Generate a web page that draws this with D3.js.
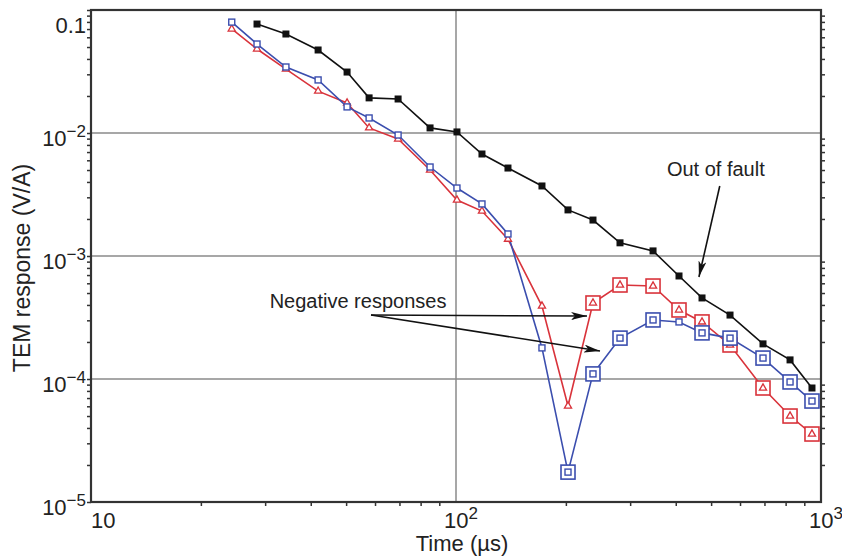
<!DOCTYPE html>
<html>
<head>
<meta charset="utf-8">
<script src="https://cdn.jsdelivr.net/npm/d3@7"></script>
<style>
  body { margin: 0; background: #fff; }
  svg text { font-family: "Liberation Sans", Arial, Helvetica, sans-serif; fill: #222; }
</style>
</head>
<body>
<div id="chart"></div>
<script>
// sample times (µs); the out-of-fault curve starts at the second one
const times = [24.3, 28.5, 34.2, 41.9, 50.3, 57.8, 69.4, 84.9, 100.6, 117.8, 138.8,
  172, 202.7, 237.3, 281.4, 346.6, 408.3, 472.1, 563.3, 693.6, 822.6, 944.7];

const outOfFault = [0.0769, 0.0638, 0.0473, 0.0313, 0.0193, 0.0189, 0.0110, 0.0102, 0.00675,
  0.00519, 0.00371, 0.00237, 0.00196, 0.00128, 0.00110, 0.000688, 0.000456, 0.000331,
  0.000193, 0.000143, 0.0000845];

const blueValues = [0.0797, 0.0529, 0.0344, 0.0270, 0.0163, 0.01325, 0.00963, 0.00529, 0.00357,
  0.00265, 0.00151, 0.000179, 0.0000175, 0.000110, 0.000215, 0.000302, 0.000291, 0.000237,
  0.000215, 0.000148, 0.0000946, 0.0000662];
const blueNegative = [0, 0, 0, 0, 0, 0, 0, 0, 0, 0, 0, 0, 1, 1, 1, 1, 0, 1, 1, 1, 1, 1];

const redValues = [0.0701, 0.0482, 0.0331, 0.0219, 0.01754, 0.0110, 0.00894, 0.00500, 0.00285,
  0.00232, 0.00137, 0.000392, 0.0000603, 0.000415, 0.000581, 0.000570, 0.000364, 0.000291,
  0.000189, 0.0000845, 0.0000500, 0.0000357];
const redNegative = [0, 0, 0, 0, 0, 0, 0, 0, 0, 0, 0, 0, 0, 1, 1, 1, 1, 1, 1, 1, 1, 1];

const yTickValues = [0.1, 1e-2, 1e-3, 1e-4, 1e-5];
const yTickBase = ["0.1", "10", "10", "10", "10"];
const yTickExp = ["", "−2", "−3", "−4", "−5"];
const xTickValues = [10, 100, 1000];
const xTickBase = ["10", "10", "10"];
const xTickExp = ["", "2", "3"];

const width = 842, height = 558;
const m = { left: 91, right: 821, top: 10, bottom: 502 };

const svg = d3.select("#chart").append("svg")
  .attr("width", width).attr("height", height);

const x = d3.scaleLog().domain([10, 1000]).range([m.left, m.right]);
const y = d3.scaleLog().domain([1e-5, 0.1]).range([m.bottom, m.top]);

// minor ticks
const minorX = [], minorY = [];
[10, 100].forEach(d => { for (let k = 2; k <= 9; k++) minorX.push(d * k); });
[1e-5, 1e-4, 1e-3, 1e-2].forEach(d => { for (let k = 2; k <= 9; k++) minorY.push(d * k); });

// grid
const grid = svg.append("g").attr("stroke", "#8a8a8a").attr("stroke-width", 1.5);
grid.append("line").attr("x1", x(100)).attr("x2", x(100)).attr("y1", m.top).attr("y2", m.bottom);
[1e-2, 1e-3, 1e-4].forEach(v => {
  grid.append("line").attr("x1", m.left).attr("x2", m.right).attr("y1", y(v)).attr("y2", y(v));
});

// axes (ticks only, labels drawn separately)
function tickAxis(axis, tr) {
  const g = svg.append("g").attr("transform", tr).call(axis);
  g.select(".domain").remove();
  g.selectAll("line").attr("stroke", "#333").attr("stroke-width", 1.5);
  g.selectAll("text").remove();
}
tickAxis(d3.axisLeft(y).tickValues(minorY.concat(yTickValues)).tickSize(4), `translate(${m.left},0)`);
tickAxis(d3.axisRight(y).tickValues(minorY).tickSize(4), `translate(${m.right},0)`);
tickAxis(d3.axisBottom(x).tickValues(minorX).tickSize(4), `translate(0,${m.bottom})`);

svg.append("rect")
  .attr("x", m.left).attr("y", m.top)
  .attr("width", m.right - m.left).attr("height", m.bottom - m.top)
  .attr("fill", "none").attr("stroke", "#333").attr("stroke-width", 2.2);

// tick labels
yTickValues.forEach((v, i) => {
  const t = svg.append("text")
    .attr("x", m.left - 5)
    .attr("y", i === 0 ? y(v) + 23 : y(v) + 13)
    .attr("text-anchor", "end")
    .attr("font-size", 22);
  t.append("tspan").text(yTickBase[i]);
  if (yTickExp[i]) t.append("tspan").attr("dy", -9).attr("font-size", 17).text(yTickExp[i]);
});
xTickValues.forEach((v, i) => {
  const t = svg.append("text")
    .attr("x", x(v) + (i === 0 ? 0 : -12))
    .attr("y", m.bottom + 26)
    .attr("font-size", 22);
  t.append("tspan").text(xTickBase[i]);
  if (xTickExp[i]) t.append("tspan").attr("dy", -9).attr("font-size", 17).text(xTickExp[i]);
});

svg.append("text")
  .attr("x", 462).attr("y", 551)
  .attr("text-anchor", "middle").attr("font-size", 22)
  .text("Time (µs)");
svg.append("text")
  .attr("transform", "translate(30,268) rotate(-90)")
  .attr("text-anchor", "middle").attr("font-size", 23)
  .text("TEM response (V/A)");

// series
const line = d3.line().x(d => x(d[0])).y(d => y(d[1]));
const blackPts = outOfFault.map((v, i) => [times[i + 1], v]);
const bluePts = blueValues.map((v, i) => [times[i], v, blueNegative[i]]);
const redPts = redValues.map((v, i) => [times[i], v, redNegative[i]]);

const red = "#d9333b", blue = "#3b4eae";

svg.append("path").attr("d", line(redPts)).attr("fill", "none")
  .attr("stroke", red).attr("stroke-width", 1.6);
svg.append("path").attr("d", line(bluePts)).attr("fill", "none")
  .attr("stroke", blue).attr("stroke-width", 1.6);
svg.append("path").attr("d", line(blackPts)).attr("fill", "none")
  .attr("stroke", "#111").attr("stroke-width", 1.6);

const tri = d3.symbol().type(d3.symbolTriangle);

// red markers
const rg = svg.append("g").selectAll("g").data(redPts).join("g")
  .attr("transform", d => `translate(${x(d[0])},${y(d[1])})`);
rg.filter(d => d[2]).append("rect")
  .attr("x", -7).attr("y", -7).attr("width", 14).attr("height", 14)
  .attr("fill", "#fff").attr("stroke", red).attr("stroke-width", 1.6);
rg.append("path").attr("d", tri.size(22)()).attr("fill", "#fff")
  .attr("stroke", red).attr("stroke-width", 1.3);

// blue markers
const bg = svg.append("g").selectAll("g").data(bluePts).join("g")
  .attr("transform", d => `translate(${x(d[0])},${y(d[1])})`);
bg.filter(d => d[2]).append("rect")
  .attr("x", -7).attr("y", -7).attr("width", 14).attr("height", 14)
  .attr("fill", "#fff").attr("stroke", blue).attr("stroke-width", 1.6);
bg.append("rect").attr("x", -3).attr("y", -3).attr("width", 6).attr("height", 6)
  .attr("fill", "#fff").attr("stroke", blue).attr("stroke-width", 1.4);

// black markers
svg.append("g").selectAll("rect").data(blackPts).join("rect")
  .attr("x", d => x(d[0]) - 3.5).attr("y", d => y(d[1]) - 3.5)
  .attr("width", 7).attr("height", 7).attr("fill", "#111");

// annotations
svg.append("defs").append("marker")
  .attr("id", "arrow").attr("viewBox", "0 0 16 8")
  .attr("refX", 16).attr("refY", 4)
  .attr("markerWidth", 16).attr("markerHeight", 8)
  .attr("markerUnits", "userSpaceOnUse").attr("orient", "auto")
  .append("path").attr("d", "M0,0 L16,4 L0,8 L4,4 Z").attr("fill", "#111");

function arrow(from, to) {
  svg.append("line")
    .attr("x1", x(from[0])).attr("y1", y(from[1]))
    .attr("x2", x(to[0])).attr("y2", y(to[1]))
    .attr("stroke", "#111").attr("stroke-width", 1.6)
    .attr("marker-end", "url(#arrow)");
}

svg.append("text").attr("x", x(515)).attr("y", y(0.0051) + 7)
  .attr("text-anchor", "middle").attr("font-size", 20).text("Out of fault");
arrow([528, 0.00371], [463, 0.000675]);

svg.append("text").attr("x", x(53.9)).attr("y", y(0.000378))
  .attr("text-anchor", "middle").attr("font-size", 20).text("Negative responses");
arrow([58.5, 0.000331], [228.5, 0.000325]);
arrow([58.5, 0.000331], [248, 0.000169]);
</script>
</body>
</html>
